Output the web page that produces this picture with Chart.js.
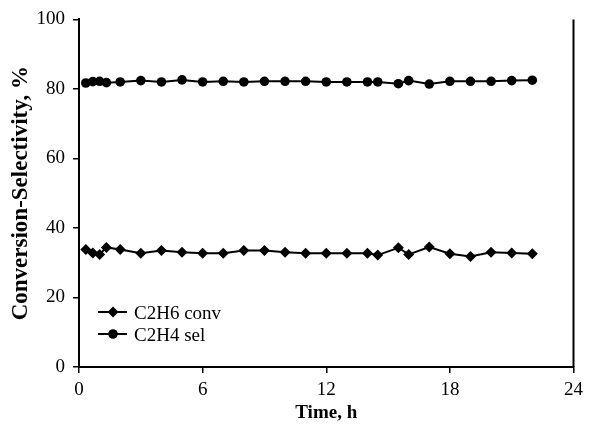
<!DOCTYPE html>
<html>
<head>
<meta charset="utf-8">
<script src="https://cdn.jsdelivr.net/npm/chart.js@4"></script>
<style>
  html, body { margin: 0; padding: 0; background: #fff; }
  canvas { display: block; }
</style>
</head>
<body>
<canvas id="chart" width="589" height="425"></canvas>
<script>
// time on stream, h
const times = [0.33, 0.67, 1, 1.33, 2, 3, 4, 5, 6, 7, 8, 9, 10, 11, 12, 13, 14, 14.5, 15.5, 16, 17, 18, 19, 20, 21, 22];
// C2H6 conversion, %
const convValues = [33.8, 32.8, 32.4, 34.4, 33.8, 32.7, 33.5, 33.0, 32.7, 32.7, 33.5, 33.5, 33.0, 32.7, 32.7, 32.7, 32.7, 32.2, 34.3, 32.4, 34.5, 32.6, 31.8, 33.0, 32.8, 32.6];
// C2H4 selectivity, %
const selValues = [81.7, 82.1, 82.2, 81.8, 82.0, 82.4, 82.0, 82.6, 82.0, 82.2, 82.0, 82.2, 82.2, 82.2, 82.0, 82.0, 82.0, 82.0, 81.5, 82.4, 81.4, 82.2, 82.2, 82.2, 82.4, 82.5];
const seriesLabels = ['C2H6 conv', 'C2H4 sel'];
const xTicks = [0, 6, 12, 18, 24];
const yTicks = [0, 20, 40, 60, 80, 100];

const serif = '"Liberation Serif", "Times New Roman", serif';

function toPoints(values) {
  return times.map((t, i) => ({ x: t, y: values[i] }));
}

// right frame line
const frame = {
  id: 'frame',
  afterDraw(chart) {
    const { ctx, chartArea: a } = chart;
    ctx.save();
    ctx.strokeStyle = '#000';
    ctx.lineWidth = 2;
    ctx.beginPath();
    ctx.moveTo(a.right, a.top);
    ctx.lineTo(a.right, a.bottom);
    ctx.stroke();
    ctx.restore();
  }
};

// legend inside the plot, line + marker like the original
const insideLegend = {
  id: 'insideLegend',
  afterDatasetsDraw(chart) {
    const { ctx, chartArea: a } = chart;
    ctx.save();
    chart.data.datasets.forEach((ds, i) => {
      const y = a.bottom - 55 + i * 22;
      const x0 = a.left + 19;
      ctx.strokeStyle = '#000';
      ctx.lineWidth = 2;
      ctx.beginPath();
      ctx.moveTo(x0, y);
      ctx.lineTo(x0 + 29, y);
      ctx.stroke();
      Chart.helpers.drawPoint(ctx, {
        pointStyle: ds.pointStyle,
        radius: ds.pointRadius,
        borderWidth: 0
      }, x0 + 15, y);
      ctx.fillStyle = '#000';
      ctx.font = '19px ' + serif;
      ctx.textBaseline = 'middle';
      ctx.fillText(ds.label, x0 + 36, y + 2);
    });
    ctx.restore();
  }
};

const axisGrid = { drawOnChartArea: false, drawTicks: true, tickLength: 6, color: '#000', lineWidth: 1.5 };

new Chart(document.getElementById('chart'), {
  type: 'scatter',
  data: {
    datasets: [
      {
        label: seriesLabels[0],
        data: toPoints(convValues),
        showLine: true,
        borderColor: '#000',
        backgroundColor: '#000',
        borderWidth: 2,
        pointStyle: 'rectRot',
        pointRadius: 5.5,
        pointBorderWidth: 0
      },
      {
        label: seriesLabels[1],
        data: toPoints(selValues),
        showLine: true,
        borderColor: '#000',
        backgroundColor: '#000',
        borderWidth: 2,
        pointStyle: 'circle',
        pointRadius: 4.8,
        pointBorderWidth: 0
      }
    ]
  },
  options: {
    responsive: false,
    animation: false,
    layout: { padding: { top: 16, right: 11, left: 0, bottom: 0 } },
    plugins: { legend: { display: false }, tooltip: { enabled: false } },
    scales: {
      x: {
        type: 'linear',
        min: 0,
        max: 24,
        afterFit: s => { s.height = 58; },
        afterBuildTicks: s => { s.ticks = xTicks.map(v => ({ value: v })); },
        ticks: { color: '#000', font: { family: serif, size: 19 }, padding: 6, maxRotation: 0 },
        grid: axisGrid,
        border: { color: '#000', width: 2 },
        title: {
          display: true,
          text: 'Time, h',
          color: '#000',
          font: { family: serif, size: 19, weight: 'bold' },
          padding: { top: 0, bottom: 1 }
        }
      },
      y: {
        min: 0,
        max: 100,
        afterFit: s => { s.width = 79; },
        afterBuildTicks: s => { s.ticks = yTicks.map(v => ({ value: v })); },
        ticks: { color: '#000', font: { family: serif, size: 19 }, padding: 8 },
        grid: axisGrid,
        border: { color: '#000', width: 2 },
        title: {
          display: true,
          text: 'Conversion-Selectivity, %',
          color: '#000',
          font: { family: serif, size: 23, weight: 'bold' },
          padding: { top: 7, bottom: 0 }
        }
      }
    }
  },
  plugins: [frame, insideLegend]
});
</script>
</body>
</html>
